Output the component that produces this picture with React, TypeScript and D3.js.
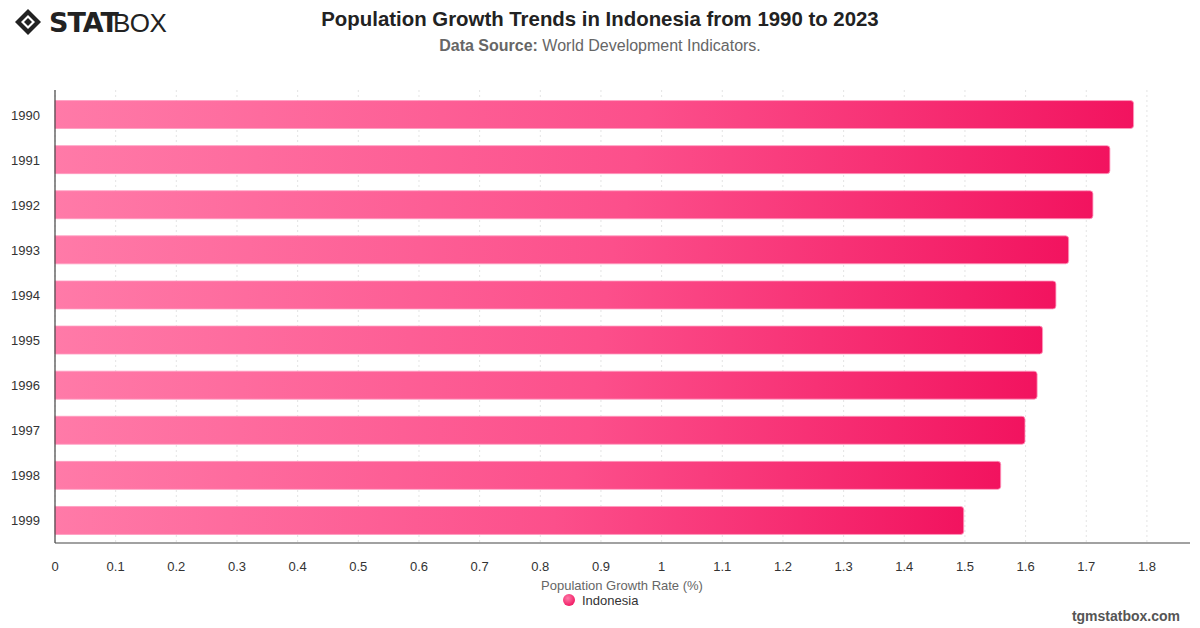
import React from 'react'
import * as d3 from 'd3'

const years = ['1990', '1991', '1992', '1993', '1994', '1995', '1996', '1997', '1998', '1999']
const growthRates = [1.778, 1.739, 1.711, 1.671, 1.65, 1.628, 1.619, 1.599, 1.559, 1.498]
const xTicks = [0, 0.1, 0.2, 0.3, 0.4, 0.5, 0.6, 0.7, 0.8, 0.9, 1, 1.1, 1.2, 1.3, 1.4, 1.5, 1.6, 1.7, 1.8]
const seriesName = 'Indonesia'

const FONT = 'Helvetica, Arial, "Liberation Sans", sans-serif'

export default function App() {
  const width = 1200
  const height = 628
  const margin = { top: 92, right: 10, bottom: 85, left: 55 }

  const x = d3.scaleLinear().domain([0, 1.871]).range([margin.left, width - margin.right])
  const y = d3.scaleBand().domain(years).range([margin.top, height - margin.bottom]).paddingInner(0.38).paddingOuter(0.19)

  const fmt = (v: number) => String(+v.toFixed(1))
  const axisY = height - margin.bottom

  return (
    <svg width={width} height={height} style={{ position: 'absolute', left: 0, top: 0, background: '#fff' }} fontFamily={FONT}>
      <defs>
        <linearGradient id="barGrad" x1="0" y1="0" x2="1" y2="0">
          <stop offset="0%" stopColor="#ff7aa8" />
          <stop offset="55%" stopColor="#fc4f8b" />
          <stop offset="100%" stopColor="#f2135f" />
        </linearGradient>
        <radialGradient id="dotGrad" cx="0.4" cy="0.35" r="0.7">
          <stop offset="0%" stopColor="#ff7aa8" />
          <stop offset="100%" stopColor="#f01560" />
        </radialGradient>
      </defs>

      {/* logo */}
      <g transform="translate(15,9)">
        <path d="M13,0 L26,13 L13,26 L0,13 Z" fill="#222" />
        <path d="M13,6 L20,13 L13,20 L6,13 Z" fill="#fff" />
        <path d="M13,9 L17,13 L13,17 L9,13 Z" fill="#222" />
        <text x={34} y={23} fontSize={27} fontWeight={900} fill="#222" fontFamily='"DejaVu Sans", sans-serif' letterSpacing={-1}>STAT</text>
        <text x={98} y={23} fontSize={26} fontWeight={300} fill="#222" fontFamily={FONT} letterSpacing={-0.5}>BOX</text>
      </g>

      {/* title */}
      <text x={600} y={26} textAnchor="middle" fontSize={20.4} fontWeight="bold" fill="#222">
        Population Growth Trends in Indonesia from 1990 to 2023
      </text>
      <text x={600} y={51} textAnchor="middle" fontSize={16} fill="#666">
        <tspan fontWeight="bold">Data Source:</tspan> World Development Indicators.
      </text>

      {/* grid */}
      {xTicks.map(t => (
        <line key={'g' + t} x1={x(t)} x2={x(t)} y1={margin.top - 2} y2={axisY} stroke="#e4e4e4" strokeDasharray="2,3" />
      ))}

      {/* bars */}
      {years.map((yr, i) => {
        const x0 = x(0)
        const w = x(growthRates[i]) - x0
        const h = y.bandwidth()
        const y0 = y(yr) as number
        return (
          <path
            key={yr}
            d={`M${x0},${y0} H${x0 + w - 3} Q${x0 + w},${y0} ${x0 + w},${y0 + 3} V${y0 + h - 3} Q${x0 + w},${y0 + h} ${x0 + w - 3},${y0 + h} H${x0} Z`}
            fill="url(#barGrad)"
            stroke="#ff9cc0"
            strokeWidth={0.8}
          />
        )
      })}

      {/* axes */}
      <line x1={x(0)} x2={x(0)} y1={margin.top - 2} y2={axisY} stroke="#444" strokeWidth={1.2} />
      <line x1={x(0)} x2={width - margin.right} y1={axisY} y2={axisY} stroke="#444" strokeWidth={1.2} />

      {years.map(yr => (
        <text key={'l' + yr} x={40} y={(y(yr) as number) + y.bandwidth() / 2 + 5} textAnchor="end" fontSize={13} fill="#333">
          {yr}
        </text>
      ))}
      {xTicks.map(t => (
        <text key={'t' + t} x={x(t)} y={571} textAnchor="middle" fontSize={13} fill="#333">
          {fmt(t)}
        </text>
      ))}

      <text x={622} y={590} textAnchor="middle" fontSize={13} fill="#666">Population Growth Rate (%)</text>
      <circle cx={569} cy={600} r={6} fill="url(#dotGrad)" />
      <text x={582} y={605} fontSize={13} fill="#333">{seriesName}</text>

      <text x={1180} y={621} textAnchor="end" fontSize={14} fontWeight="bold" fill="#555">tgmstatbox.com</text>
    </svg>
  )
}
